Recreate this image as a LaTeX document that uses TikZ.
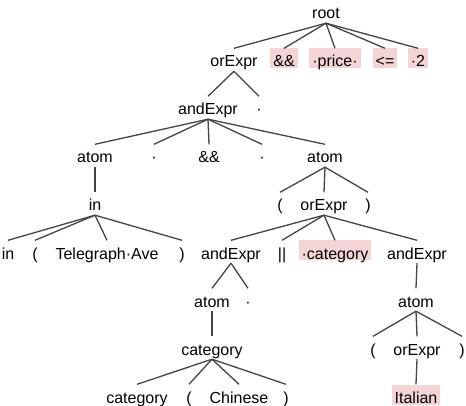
\documentclass[tikz,border=0pt]{standalone}
\usepackage{fontspec}
\setmainfont{Liberation Sans}
\usepackage{tikz}
\definecolor{hitpink}{RGB}{244,212,212}
\definecolor{edgegray}{RGB}{68,68,68}

\begin{document}
\begin{tikzpicture}[x=1pt,y=-1pt,font=\fontsize{16}{19}\selectfont,
  tok/.style={anchor=base,inner xsep=3pt,inner ysep=1.5pt,text height=17pt,text depth=0pt},
  hit/.style={tok,fill=hitpink},
  edge/.style={draw=edgegray,line width=1.3pt}]
\useasboundingbox (0,0) rectangle (466,406);
% level 0
\node[tok] (root) at (326,19) {root};
% level 1
\node[tok] (orA) at (234,67) {orExpr};
\node[hit] (amp) at (284,67) {\&\&};
\node[hit] (price) at (335,67) {·price·};
\node[hit] (le) at (385,67) {<=};
\node[hit] (two) at (418,67) {·2};
% level 2
\node[tok] (andA) at (208,115) {andExpr};
\node[tok] (dotA) at (259,115) {·};
% level 3
\node[tok] (atomL) at (95,163) {atom};
\node[tok] (dotB) at (154,163) {·};
\node[tok] (ampB) at (209,163) {\&\&};
\node[tok] (dotC) at (262,163) {·};
\node[tok] (atomR) at (325,163) {atom};
% level 4
\node[tok] (inA) at (95,211) {in};
\node[tok] (lparB) at (280,211) {(};
\node[tok] (orB) at (324,211) {orExpr};
\node[tok] (rparB) at (368,211) {)};
% level 5
\node[tok] (inKw) at (8,259) {in};
\node[tok] (lparA) at (35,259) {(};
\node[tok] (tele) at (107,259) {Telegraph·Ave};
\node[tok] (rparA) at (182,259) {)};
\node[tok] (andB) at (231,259) {andExpr};
\node[tok] (bar) at (282,259) {||};
\node[hit] (cat) at (335,259) {·category};
\node[tok] (andC) at (417,259) {andExpr};
% level 6
\node[tok] (atomB) at (212,307) {atom};
\node[tok] (dotD) at (248,307) {·};
\node[tok] (atomC) at (416,307) {atom};
% level 7
\node[tok] (catA) at (212,355) {category};
\node[tok] (lparD) at (373,355) {(};
\node[tok] (orC) at (417,355) {orExpr};
\node[tok] (rparD) at (462,355) {)};
% level 8
\node[tok] (catKw) at (137,403) {category};
\node[tok] (lparC) at (189,403) {(};
\node[tok] (chinese) at (239,403) {Chinese};
\node[tok] (rparC) at (286,403) {)};
\node[hit] (italian) at (416,403) {Italian};
% edges
\foreach \a/\b in {root/orA,root/amp,root/price,root/le,root/two,
  orA/andA,orA/dotA,
  andA/atomL,andA/dotB,andA/ampB,andA/dotC,andA/atomR,
  atomL/inA,inA/inKw,inA/lparA,inA/tele,inA/rparA,
  atomR/lparB,atomR/orB,atomR/rparB,
  orB/andB,orB/bar,orB/cat,orB/andC,
  andB/atomB,andB/dotD,atomB/catA,
  catA/catKw,catA/lparC,catA/chinese,catA/rparC,
  andC/atomC,atomC/lparD,atomC/orC,atomC/rparD,orC/italian}
  \draw[edge] ([yshift=-2.5pt]\a.south) -- (\b.north);
\end{tikzpicture}
\end{document}
